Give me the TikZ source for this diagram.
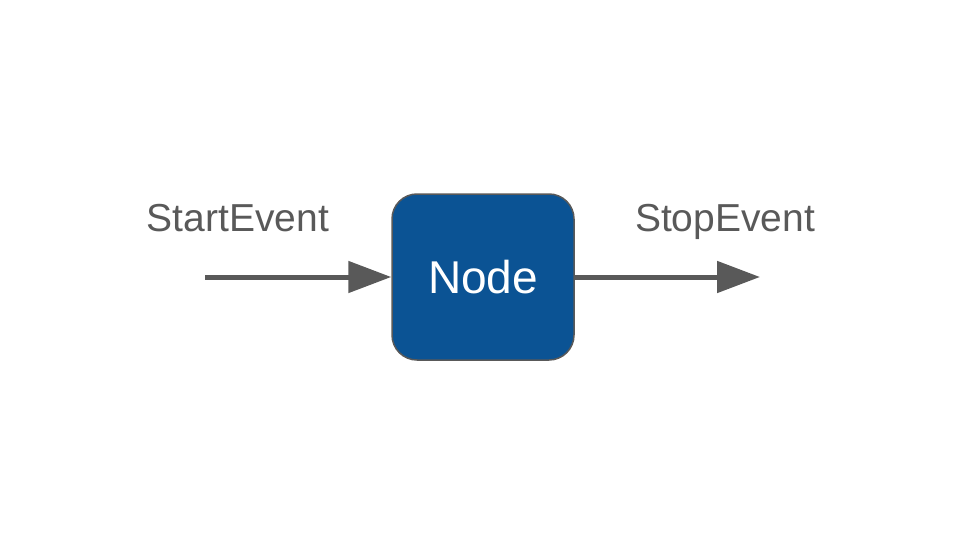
\documentclass[tikz,border=0pt]{standalone}
\usepackage{fontspec}
\setmainfont{Liberation Sans}
\usepackage{xcolor}
\usetikzlibrary{arrows.meta}
\definecolor{nodeblue}{HTML}{0B5394}
\definecolor{darkgray}{HTML}{595959}

\begin{document}
\begin{tikzpicture}[x=1pt,y=-1pt,
  main/.style = {draw=darkgray, line width=1.5pt, fill=nodeblue, rounded corners=25pt,
    minimum width=182pt, minimum height=166pt, text=white, font=\fontsize{46}{50}\selectfont},
  event/.style = {text=darkgray, anchor=base, inner sep=0pt, font=\fontsize{39}{44}\selectfont},
  flow/.style = {draw=darkgray, line width=5pt, -{Triangle[length=43pt,width=31pt]}}]
      \useasboundingbox (0,0) rectangle (960,540);

      \node[main] (node) at (483,277) {Node};

      \coordinate (start) at (205,277);
      \coordinate (stop) at (760,277);

      \node[event] (startlbl) at (238,231) {StartEvent};
      \node[event] (stoplbl) at (725,231) {StopEvent};

      \path[flow] (start) -- (node.west);
      \path[flow] (node.east) -- (stop);

    \end{tikzpicture}
\end{document}
